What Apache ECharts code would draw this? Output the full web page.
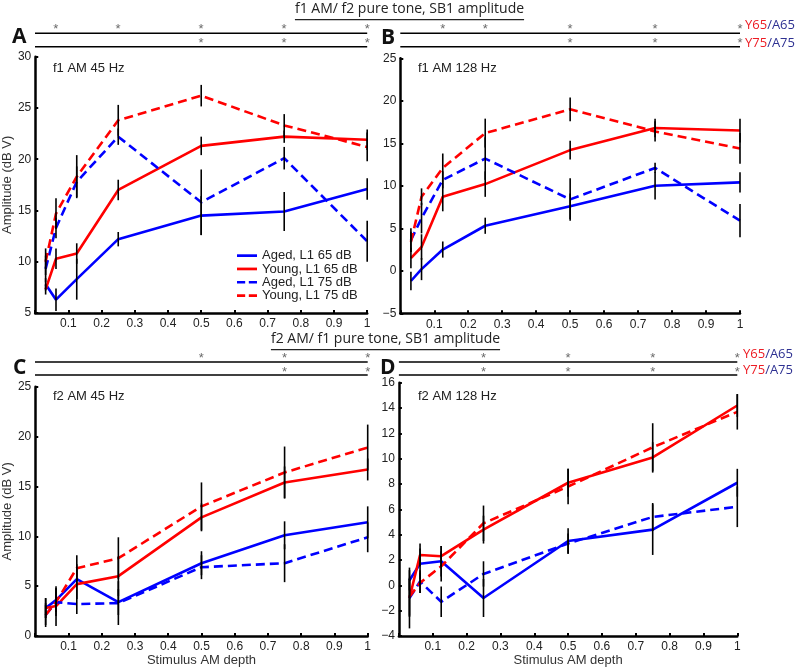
<!DOCTYPE html>
<html><head><meta charset="utf-8">
<script src="https://cdn.jsdelivr.net/npm/echarts@6/dist/echarts.min.js"></script>
<style>html,body{margin:0;padding:0;background:#fff}#c{width:800px;height:670px}</style>
</head><body><div id="c"></div>
<script>
// ---- data ----
var depth = [0.03125, 0.0625, 0.125, 0.25, 0.5, 0.75, 1];
var xTicks = [0.1,0.2,0.3,0.4,0.5,0.6,0.7,0.8,0.9,1];
var seriesNames = ['Aged, L1 65 dB', 'Young, L1 65 dB', 'Aged, L1 75 dB', 'Young, L1 75 dB'];
var panelTitles = ['f1 AM 45 Hz', 'f1 AM 128 Hz', 'f2 AM 45 Hz', 'f2 AM 128 Hz'];
var sectionTitles = ['f1 AM/ f2 pure tone, SB1 amplitude', 'f2 AM/ f1 pure tone, SB1 amplitude'];
var panelLetters = ['A', 'B', 'C', 'D'];

// Panel A
var aA65 = [7.8, 6.3, 8.3, 12.2, 14.5, 14.9, 17.1];
var yA65 = [7.3, 10.3, 10.8, 17.0, 21.3, 22.2, 21.9];
var aA75 = [9.3, 13.3, 17.8, 22.2, 15.8, 20.1, 12.0];
var yA75 = [10.0, 14.7, 18.3, 23.8, 26.2, 23.3, 21.2];
var eA_a65 = [0.6, 1.1, 2.0, 0.7, 1.9, 1.9, 1.05];
var eA_y65 = [0.5, 1.0, 1.0, 1.0, 0.9, 0.6, 1.0];
var eA_a75 = [1.3, 1.0, 1.5, 0.8, 3.2, 1.1, 2.0];
var eA_y75 = [1.3, 1.5, 2.1, 1.5, 1.05, 1.1, 1.4];
// Panel B
var aB65 = [-1.2, 0.2, 2.5, 5.3, 7.6, 10.0, 10.4];
var yB65 = [1.5, 2.8, 8.7, 10.2, 14.2, 16.8, 16.5];
var aB75 = [3.6, 6.2, 10.7, 13.2, 8.4, 12.1, 5.9];
var yB75 = [3.4, 8.7, 12.1, 16.2, 19.0, 16.4, 14.4];
var eB_a65 = [1.1, 1.3, 0.95, 0.95, 1.5, 1.6, 1.2];
var eB_y65 = [1.2, 1.5, 1.7, 1.5, 1.1, 1.1, 1.4];
var eB_a75 = [1.4, 1.8, 1.0, 2.5, 2.5, 0.6, 1.95];
var eB_y75 = [1.2, 1.0, 1.7, 1.7, 1.4, 1.2, 1.8];
// Panel C
var aC65 = [2.8, 3.6, 5.7, 3.4, 7.3, 10.1, 11.4];
var yC65 = [2.8, 3.0, 5.2, 6.0, 11.9, 15.4, 16.7];
var aC75 = [2.1, 3.4, 3.2, 3.3, 6.9, 7.3, 9.9];
var yC75 = [2.1, 3.4, 6.8, 7.8, 13.0, 16.4, 18.9];
var eC_a65 = [1.0, 1.2, 1.5, 1.3, 1.2, 1.4, 1.6];
var eC_y65 = [1.0, 2.0, 1.5, 2.0, 1.4, 1.6, 1.1];
var eC_a75 = [1.2, 1.0, 1.0, 2.2, 1.2, 1.9, 1.5];
var eC_y75 = [1.0, 1.4, 1.3, 2.1, 2.4, 2.6, 2.3];
// Panel D
var aD65 = [0.4, 1.7, 1.9, -1.0, 3.5, 4.4, 8.1];
var yD65 = [-1.0, 2.4, 2.3, 4.4, 8.1, 10.1, 14.2];
var aD75 = [-1.0, 0.3, -1.3, 0.9, 3.3, 5.4, 6.2];
var yD75 = [-0.9, 0.2, 1.5, 4.9, 7.8, 10.9, 13.7];
var eD_a65 = [0.8, 1.2, 1.2, 1.5, 1.0, 2.0, 1.1];
var eD_y65 = [2.4, 0.9, 0.8, 1.1, 1.1, 1.2, 0.9];
var eD_a75 = [1.5, 0.9, 1.2, 1.0, 0.8, 1.1, 1.6];
var eD_y75 = [1.5, 0.8, 1.2, 1.4, 1.4, 1.9, 1.4];

// significance (asterisk) depths, row 1 = Y65/A65, row 2 = Y75/A75
var sigA65 = [0.0625, 0.25, 0.5, 0.75, 1];
var sigA75 = [0.5, 0.75, 1];
var sigB65 = [0.125, 0.25, 0.5, 0.75, 1];
var sigB75 = [0.5, 0.75, 1];
var sigC65 = [0.5, 0.75, 1];
var sigC75 = [0.75, 1];
var sigD65 = [0.25, 0.5, 0.75, 1];
var sigD75 = [0.25, 0.5, 0.75, 1];

// y-axis ranges
var yMinA = 5, yMaxA = 30, yStepA = 5;
var yMinB = -5, yMaxB = 25, yStepB = 5;
var yMinC = 0, yMaxC = 25, yStepC = 5;
var yMinD = -4, yMaxD = 16, yStepD = 2;

// ---- chart ----
var RED = '#ff0000', BLUE = '#0000ff';
var FONT = '"Liberation Sans", Arial, sans-serif';

var panels = [
  {vals:[aA65,yA65,aA75,yA75], errs:[eA_a65,eA_y65,eA_a75,eA_y75], y:[yMinA,yMaxA,yStepA], grid:{left:35,top:56.7,width:332.2,height:256.3}},
  {vals:[aB65,yB65,aB75,yB75], errs:[eB_a65,eB_y65,eB_a75,eB_y75], y:[yMinB,yMaxB,yStepB], grid:{left:400.3,top:58.3,width:339.7,height:255}},
  {vals:[aC65,yC65,aC75,yC75], errs:[eC_a65,eC_y65,eC_a75,eC_y75], y:[yMinC,yMaxC,yStepC], grid:{left:35,top:386.7,width:332.7,height:249.3}},
  {vals:[aD65,yD65,aD75,yD75], errs:[eD_a65,eD_y65,eD_a75,eD_y75], y:[yMinD,yMaxD,yStepD], grid:{left:398.9,top:382.7,width:338.4,height:253.3}}
];
var sigs = [[sigA65,sigA75],[sigB65,sigB75],[sigC65,sigC75],[sigD65,sigD75]];
var strips = [
  {left:35, width:332.2, top:20},
  {left:400.3, width:339.7, top:20},
  {left:35, width:332.7, top:350},
  {left:398.9, width:338.4, top:350}
];
var colors = [BLUE, RED, BLUE, RED];
var dashed = [false, false, true, true];

function fmtY(v){ return v < 0 ? '\u2212' + Math.abs(v) : String(v); }

var grids = [], xAxes = [], yAxes = [], series = [];
panels.forEach(function(p, i){
  grids.push(p.grid);
  xAxes.push({
    gridIndex:i, type:'value', min:0, max:1, interval:0.1,
    name: i >= 2 ? 'Stimulus AM depth' : '', nameLocation:'middle', nameGap:13,
    nameTextStyle:{fontSize:13, color:'#333', fontFamily:FONT},
    axisLine:{onZero:false, lineStyle:{color:'#000', width:2.5}},
    axisTick:{inside:true, length:3, lineStyle:{color:'#000', width:2}},
    axisLabel:{fontSize:12, color:'#222', fontFamily:FONT, margin:5,
      formatter:function(v){ return xTicks.indexOf(Math.round(v*10)/10) >= 0 && v > 0.05 ? String(Math.round(v*10)/10) : ''; }},
    splitLine:{show:false}
  });
  yAxes.push({
    gridIndex:i, type:'value', min:p.y[0], max:p.y[1], interval:p.y[2],
    name: (i === 0 || i === 2) ? 'Amplitude (dB V)' : '', nameLocation:'middle', nameGap:14,
    nameTextStyle:{fontSize:13, color:'#333', fontFamily:FONT},
    axisLine:{show:true, onZero:false, lineStyle:{color:'#000', width:2.5}},
    axisTick:{show:true, inside:true, length:3, lineStyle:{color:'#000', width:2}},
    axisLabel:{fontSize:12, color:'#222', fontFamily:FONT, margin:4, formatter:fmtY},
    splitLine:{show:false}
  });
  p.vals.forEach(function(arr, k){
    series.push({
      type:'line', name:seriesNames[k], xAxisIndex:i, yAxisIndex:i,
      data: depth.map(function(d, j){ return [d, arr[j]]; }),
      symbol:'none', showSymbol:false, z:2, animation:false,
      lineStyle:{color:colors[k], width:2.6, type: dashed[k] ? [9,5] : 'solid'},
      itemStyle:{color:colors[k]}
    });
  });
  p.vals.forEach(function(arr, k){
    series.push({
      type:'custom', xAxisIndex:i, yAxisIndex:i, z:3, animation:false, silent:true,
      data: depth.map(function(d, j){ return [d, arr[j], p.errs[k][j]]; }),
      encode:{x:0, y:1},
      renderItem:function(params, api){
        var x = api.value(0), y = api.value(1), e = api.value(2);
        var a = api.coord([x, y - e]), b = api.coord([x, y + e]);
        return {type:'line', shape:{x1:a[0], y1:a[1], x2:b[0], y2:b[1]}, style:{stroke:'#000', lineWidth:1.6}};
      }
    });
  });
});

// significance strips
strips.forEach(function(s, i){
  var gi = grids.length;
  grids.push({left:s.left, width:s.width, top:s.top, height:30});
  xAxes.push({gridIndex:gi, type:'value', min:0, max:1, show:false});
  yAxes.push({gridIndex:gi, type:'value', min:0, max:30, inverse:true, show:false});
  var lineLv = i < 2 ? [13.3, 26.7] : [12, 25];
  var starLv = i < 2 ? [6.7, 20] : [5.5, 19];
  lineLv.forEach(function(lv){
    series.push({type:'line', xAxisIndex:gi, yAxisIndex:gi, symbol:'none', animation:false, silent:true, clip:false,
      data:[[0, lv], [1, lv]], lineStyle:{color:'#000', width:1.6}});
  });
  sigs[i].forEach(function(arr, r){
    series.push({type:'scatter', xAxisIndex:gi, yAxisIndex:gi, symbolSize:1, animation:false, silent:true, clip:false,
      itemStyle:{color:'rgba(0,0,0,0)'},
      data: arr.map(function(d){ return [d, starLv[r]]; }),
      label:{show:true, position:'inside', formatter:'*', fontSize:13, color:'#444', fontFamily:FONT, offset:[0,3]}});
  });
});

// graphics
function textW(t, font){ var c = document.createElement('canvas').getContext('2d'); c.font = font; return c.measureText(t).width; }
var graphics = [];
var titlePos = [[409.5, 12], [385.5, 342]];
var TFONT = '14px "Open Sans"';
sectionTitles.forEach(function(t, i){
  var w = textW(t, TFONT);
  graphics.push({type:'text', left:titlePos[i][0] - w/2, top:titlePos[i][1] - 10,
    style:{text:t, font:TFONT, fill:'#222'}});
  graphics.push({type:'rect', shape:{x:titlePos[i][0] - w/2, y:titlePos[i][1] + 7, width:w, height:1.2}, style:{fill:'#222'}});
});
var letterPos = [[12, 27], [381, 28], [13, 358], [380, 358]];
panelLetters.forEach(function(t, i){
  graphics.push({type:'text', left:letterPos[i][0], top:letterPos[i][1], style:{text:t, font:'bold 21px "Open Sans"', fill:'#111'}});
});
var annPos = [[53, 62], [418, 62], [53, 390], [418, 390]];
panelTitles.forEach(function(t, i){
  graphics.push({type:'text', left:annPos[i][0], top:annPos[i][1], style:{text:t, font:'13px "Liberation Sans"', fill:'#222'}});
});
var grpPos = [[745, 19], [745, 37], [743, 348], [743, 364]];
var grpTxt = [['Y65','/A65'],['Y75','/A75'],['Y65','/A65'],['Y75','/A75']];
grpPos.forEach(function(p, i){
  graphics.push({type:'text', left:p[0], top:p[1], style:{
    text:'{r|' + grpTxt[i][0] + '}{b|' + grpTxt[i][1] + '}',
    rich:{r:{fill:'#ed1c24', font:'13px "Open Sans"'}, b:{fill:'#2e3192', font:'13px "Open Sans"'}}}});
});

var SOLID_ICON = 'path://M0,0H22V3H0Z';
var DASH_ICON = 'path://M0,0H9V3H0Z M13,0H22V3H13Z';
var legendData = seriesNames.map(function(n, k){ return {name:n, icon: dashed[k] ? DASH_ICON : SOLID_ICON}; });

var chart = echarts.init(document.getElementById('c'), null, {renderer:'canvas'});
chart.setOption({
  animation:false,
  backgroundColor:'#fff',
  grid:grids, xAxis:xAxes, yAxis:yAxes, series:series,
  legend:{data:legendData, orient:'vertical', left:237, top:249, itemWidth:20, itemHeight:3, itemGap:0,
    textStyle:{fontSize:13, color:'#222', fontFamily:FONT, lineHeight:13.3, padding:[0,0,0,0]}, selectedMode:false, padding:0},
  graphic:graphics
});
</script></body></html>
